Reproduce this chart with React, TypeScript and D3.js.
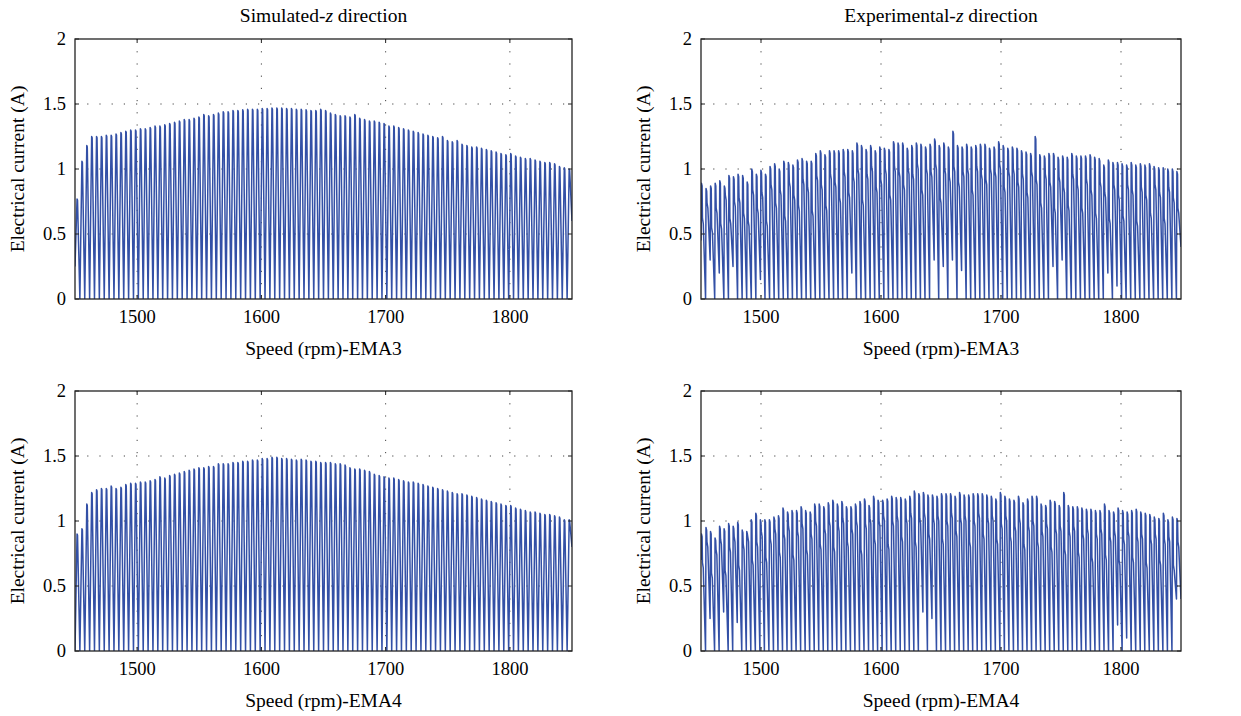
import React from 'react';
import * as d3 from 'd3';

// speed range on every x axis
const SPEED_MIN = 1450;
const SPEED_MAX = 1850;
const X_TICKS = [1500, 1600, 1700, 1800];
const Y_TICKS = [0, 0.5, 1, 1.5, 2];

// simulated current, peak of each electrical cycle (A)
const SIM_EMA3 = [
  0.77, 1.06, 1.18, 1.25, 1.25, 1.25, 1.26, 1.26, 1.27, 1.28,
  1.29, 1.30, 1.30, 1.31, 1.31, 1.32, 1.33, 1.33, 1.34, 1.35,
  1.36, 1.37, 1.38, 1.38, 1.39, 1.40, 1.42, 1.41, 1.42, 1.43,
  1.44, 1.44, 1.45, 1.45, 1.455, 1.46, 1.46, 1.46, 1.465, 1.465,
  1.47, 1.47, 1.47, 1.465, 1.465, 1.46, 1.46, 1.455, 1.45, 1.45,
  1.46, 1.45, 1.43, 1.42, 1.41, 1.41, 1.40, 1.42, 1.39, 1.38,
  1.37, 1.37, 1.36, 1.35, 1.33, 1.33, 1.32, 1.31, 1.30, 1.29,
  1.28, 1.27, 1.26, 1.25, 1.24, 1.25, 1.22, 1.21, 1.22, 1.19,
  1.18, 1.17, 1.17, 1.16, 1.15, 1.14, 1.13, 1.12, 1.11, 1.12,
  1.10, 1.09, 1.08, 1.08, 1.07, 1.06, 1.05, 1.05, 1.04, 1.02,
  1.01, 1.00,
];
const SIM_EMA4 = [
  0.90, 0.94, 1.13, 1.22, 1.24, 1.25, 1.25, 1.27, 1.25, 1.26,
  1.28, 1.29, 1.29, 1.30, 1.30, 1.31, 1.32, 1.34, 1.33, 1.35,
  1.36, 1.37, 1.38, 1.39, 1.40, 1.41, 1.41, 1.42, 1.42, 1.44,
  1.44, 1.44, 1.45, 1.45, 1.46, 1.46, 1.47, 1.47, 1.48, 1.48,
  1.49, 1.49, 1.48, 1.48, 1.475, 1.47, 1.475, 1.47, 1.46, 1.46,
  1.45, 1.45, 1.45, 1.44, 1.44, 1.43, 1.41, 1.40, 1.40, 1.39,
  1.38, 1.36, 1.35, 1.34, 1.33, 1.33, 1.32, 1.31, 1.30, 1.30,
  1.29, 1.28, 1.27, 1.26, 1.25, 1.24, 1.23, 1.22, 1.21, 1.21,
  1.20, 1.19, 1.18, 1.17, 1.16, 1.15, 1.14, 1.13, 1.12, 1.12,
  1.10, 1.09, 1.08, 1.07, 1.07, 1.06, 1.05, 1.05, 1.04, 1.03,
  1.01, 1.01,
];
// first / last sample of the simulated traces
const SIM_EMA3_ENDS = [0.25, 0.6];
const SIM_EMA4_ENDS = [0.0, 0.8];

// experimental current: peak, shoulder and trough of each cycle (A)
const EXP_EMA3_PEAK = [
  0.89, 0.85, 0.87, 0.89, 0.91, 0.87, 0.95, 0.94, 0.96, 0.95,
  0.90, 1.00, 0.96, 0.99, 0.96, 1.02, 1.04, 1.00, 1.06, 1.05,
  1.03, 1.07, 1.08, 1.06, 1.06, 1.12, 1.14, 1.11, 1.14, 1.14,
  1.14, 1.15, 1.15, 1.14, 1.20, 1.18, 1.15, 1.18, 1.14, 1.17,
  1.16, 1.15, 1.21, 1.20, 1.20, 1.16, 1.18, 1.20, 1.19, 1.17,
  1.19, 1.23, 1.18, 1.20, 1.17, 1.29, 1.18, 1.17, 1.19, 1.17,
  1.18, 1.19, 1.19, 1.16, 1.17, 1.21, 1.18, 1.16, 1.17, 1.16,
  1.14, 1.13, 1.12, 1.25, 1.11, 1.10, 1.12, 1.12, 1.09, 1.10,
  1.09, 1.12, 1.10, 1.10, 1.10, 1.11, 1.09, 1.08, 1.03, 1.07,
  1.05, 1.05, 1.04, 1.03, 1.05, 1.03, 1.04, 1.03, 1.04, 1.02,
  1.01, 1.01, 1.00, 1.00, 0.98,
];
const EXP_EMA3_SHOULDER = [
  0.62, 0.74, 0.55, 0.70, 0.58, 0.80, 0.62, 0.75, 0.78, 0.66,
  0.60, 0.84, 0.70, 0.82, 0.60, 0.88, 0.74, 0.84, 0.64, 0.90,
  0.80, 0.72, 0.92, 0.86, 0.68, 0.95, 0.88, 0.72, 0.96, 0.90,
  0.78, 0.98, 0.82, 0.94, 1.00, 0.76, 0.96, 1.02, 0.86, 0.92,
  1.00, 0.80, 1.02, 0.98, 0.88, 1.00, 0.96, 1.04, 0.84, 1.00,
  0.98, 1.04, 0.78, 1.00, 0.94, 1.02, 0.90, 0.98, 1.00, 0.84,
  1.02, 0.96, 0.92, 1.00, 0.98, 1.04, 0.86, 0.98, 1.00, 0.90,
  0.96, 0.82, 0.98, 0.92, 0.74, 0.96, 0.90, 0.70, 0.94, 0.86,
  0.72, 0.96, 0.88, 0.70, 0.92, 0.84, 0.66, 0.90, 0.82, 0.62,
  0.88, 0.80, 0.64, 0.88, 0.84, 0.60, 0.86, 0.80, 0.66, 0.88,
  0.82, 0.62, 0.86, 0.78, 0.70,
];
const EXP_EMA3_TROUGH = [
  0.45, 0.0, 0.30, 0.0, 0.20, 0.0, 0.0, 0.25, 0.0, 0.0,
  0.0, 0.0, 0.0, 0.15, 0.0, 0.0, 0.0, 0.0, 0.0, 0.0,
  0.0, 0.0, 0.0, 0.0, 0.0, 0.0, 0.0, 0.0, 0.0, 0.0,
  0.0, 0.0, 0.0, 0.20, 0.0, 0.0, 0.0, 0.0, 0.0, 0.0,
  0.0, 0.0, 0.0, 0.0, 0.0, 0.0, 0.0, 0.0, 0.0, 0.0,
  0.0, 0.30, 0.0, 0.25, 0.0, 0.30, 0.0, 0.22, 0.0, 0.0,
  0.0, 0.0, 0.0, 0.0, 0.0, 0.0, 0.0, 0.0, 0.0, 0.0,
  0.0, 0.0, 0.0, 0.0, 0.0, 0.0, 0.0, 0.25, 0.0, 0.30,
  0.0, 0.0, 0.0, 0.0, 0.0, 0.0, 0.0, 0.0, 0.0, 0.20,
  0.0, 0.10, 0.0, 0.0, 0.0, 0.0, 0.0, 0.0, 0.0, 0.0,
  0.0, 0.0, 0.0, 0.0, 0.0,
];

const EXP_EMA4_PEAK = [
  0.90, 0.95, 0.92, 0.87, 0.96, 0.94, 0.98, 0.96, 0.99, 0.93,
  0.92, 1.01, 1.06, 1.01, 1.01, 1.01, 1.03, 1.04, 1.10, 1.07,
  1.08, 1.08, 1.11, 1.08, 1.07, 1.13, 1.13, 1.11, 1.14, 1.16,
  1.13, 1.15, 1.11, 1.11, 1.13, 1.15, 1.17, 1.12, 1.19, 1.16,
  1.16, 1.17, 1.19, 1.18, 1.18, 1.17, 1.19, 1.23, 1.21, 1.22,
  1.20, 1.20, 1.19, 1.21, 1.21, 1.21, 1.19, 1.22, 1.20, 1.20,
  1.21, 1.21, 1.21, 1.20, 1.19, 1.17, 1.22, 1.19, 1.17, 1.16,
  1.19, 1.14, 1.17, 1.19, 1.19, 1.13, 1.12, 1.16, 1.15, 1.12,
  1.22, 1.12, 1.11, 1.11, 1.10, 1.09, 1.09, 1.08, 1.08, 1.13,
  1.08, 1.07, 1.10, 1.08, 1.07, 1.08, 1.09, 1.07, 1.06, 1.05,
  1.03, 1.02, 1.06, 1.01, 1.03, 1.02,
];
const EXP_EMA4_SHOULDER = [
  0.68, 0.84, 0.60, 0.78, 0.86, 0.62, 0.80, 0.88, 0.66, 0.82,
  0.88, 0.70, 0.84, 0.92, 0.72, 0.86, 0.94, 0.76, 0.90, 0.96,
  0.74, 0.92, 0.98, 0.78, 0.90, 1.00, 0.82, 0.94, 1.00, 0.80,
  0.96, 1.02, 0.84, 0.94, 1.00, 0.78, 0.98, 1.02, 0.86, 1.00,
  1.04, 0.82, 1.00, 1.04, 0.88, 1.02, 1.06, 0.84, 1.02, 1.06,
  0.90, 1.02, 1.04, 0.86, 1.00, 1.06, 0.92, 1.02, 1.04, 0.84,
  1.00, 1.06, 0.90, 1.02, 1.04, 0.86, 0.98, 1.04, 0.88, 0.96,
  1.02, 0.82, 0.96, 1.00, 0.84, 0.92, 0.98, 0.80, 0.94, 0.96,
  0.78, 0.92, 0.96, 0.76, 0.90, 0.94, 0.72, 0.90, 0.94, 0.74,
  0.88, 0.92, 0.70, 0.86, 0.92, 0.72, 0.88, 0.90, 0.68, 0.86,
  0.90, 0.70, 0.86, 0.88, 0.66, 0.84,
];
const EXP_EMA4_TROUGH = [
  0.70, 0.0, 0.25, 0.0, 0.0, 0.30, 0.0, 0.0, 0.22, 0.0,
  0.0, 0.0, 0.0, 0.0, 0.0, 0.0, 0.0, 0.0, 0.0, 0.0,
  0.0, 0.0, 0.0, 0.0, 0.0, 0.0, 0.0, 0.0, 0.0, 0.0,
  0.0, 0.0, 0.0, 0.0, 0.0, 0.0, 0.0, 0.0, 0.0, 0.0,
  0.0, 0.0, 0.0, 0.0, 0.0, 0.0, 0.0, 0.0, 0.0, 0.30,
  0.0, 0.25, 0.0, 0.0, 0.0, 0.0, 0.0, 0.0, 0.0, 0.0,
  0.0, 0.0, 0.0, 0.0, 0.0, 0.0, 0.0, 0.0, 0.0, 0.0,
  0.0, 0.0, 0.0, 0.0, 0.0, 0.0, 0.0, 0.0, 0.0, 0.0,
  0.0, 0.0, 0.0, 0.0, 0.0, 0.0, 0.0, 0.0, 0.0, 0.0,
  0.0, 0.0, 0.20, 0.0, 0.10, 0.0, 0.0, 0.0, 0.0, 0.0,
  0.0, 0.0, 0.0, 0.0, 0.0, 0.40,
];

const LINE_COLOR = '#3350a6';
const FONT = '"Liberation Serif", "Times New Roman", serif';

type Pt = [number, number];

// rectified simulated waveform: zero between cycles, peak mid-cycle
function simPoints(peaks: number[], ends: number[]): Pt[] {
  const n = peaks.length;
  const x = d3.scaleLinear().domain([0, n]).range([SPEED_MIN, SPEED_MAX]);
  const pts: Pt[] = [[x(0), ends[0]]];
  peaks.forEach((p, i) => {
    if (i > 0) pts.push([x(i), 0]);
    pts.push([x(i + 0.42), p]);
    pts.push([x(i + 0.52), p - 0.01]);
  });
  pts.push([x(n), ends[1]]);
  return pts;
}

// experimental waveform: sharp rise, short top, shoulder, fall
function expPoints(peaks: number[], shoulders: number[], troughs: number[]): Pt[] {
  const n = peaks.length;
  const x = d3.scaleLinear().domain([0, n]).range([SPEED_MIN, SPEED_MAX]);
  const pts: Pt[] = [];
  peaks.forEach((p, i) => {
    const s = shoulders[i];
    pts.push([x(i), troughs[i]]);
    pts.push([x(i + 0.1), p]);
    pts.push([x(i + 0.24), p - 0.02]);
    pts.push([x(i + 0.32), s]);
    pts.push([x(i + 0.5), s - 0.04]);
  });
  pts.push([x(n), 0.4]);
  return pts;
}

const PANELS = [
  { left: 75, right: 572, top: 39, bottom: 299, title: ['Simulated-', ' direction'], xlabel: 'Speed (rpm)-EMA3', pts: simPoints(SIM_EMA3, SIM_EMA3_ENDS) },
  { left: 701, right: 1181, top: 39, bottom: 299, title: ['Experimental-', ' direction'], xlabel: 'Speed (rpm)-EMA3', pts: expPoints(EXP_EMA3_PEAK, EXP_EMA3_SHOULDER, EXP_EMA3_TROUGH) },
  { left: 75, right: 572, top: 391, bottom: 651, title: null, xlabel: 'Speed (rpm)-EMA4', pts: simPoints(SIM_EMA4, SIM_EMA4_ENDS) },
  { left: 701, right: 1181, top: 391, bottom: 651, title: null, xlabel: 'Speed (rpm)-EMA4', pts: expPoints(EXP_EMA4_PEAK, EXP_EMA4_SHOULDER, EXP_EMA4_TROUGH) },
];

const Panel = ({ p, idx }: { p: typeof PANELS[number]; idx: number }) => {
  const x = d3.scaleLinear().domain([SPEED_MIN, SPEED_MAX]).range([p.left, p.right]);
  const y = d3.scaleLinear().domain([0, 2]).range([p.bottom, p.top]);
  const line = d3.line<Pt>().x(d => x(d[0])).y(d => y(d[1]));
  const cx = (p.left + p.right) / 2;
  const cy = (p.top + p.bottom) / 2;
  const clipId = `clip${idx}`;
  return (
    <g>
      <clipPath id={clipId}>
        <rect x={p.left} y={p.top} width={p.right - p.left} height={p.bottom - p.top} />
      </clipPath>
      {/* dotted grid */}
      {X_TICKS.map(t => (
        <line key={'gx' + t} x1={x(t)} x2={x(t)} y1={p.top} y2={p.bottom}
          stroke="#444" strokeWidth={1} strokeDasharray="1.2,11" />
      ))}
      {Y_TICKS.slice(1, -1).map(t => (
        <line key={'gy' + t} x1={p.left} x2={p.right} y1={y(t)} y2={y(t)}
          stroke="#444" strokeWidth={1} strokeDasharray="1.2,11" />
      ))}
      <path d={line(p.pts) || ''} fill="none" stroke={LINE_COLOR} strokeWidth={1.5}
        strokeLinejoin="round" clipPath={`url(#${clipId})`} />
      {/* frame + inward ticks */}
      <rect x={p.left} y={p.top} width={p.right - p.left} height={p.bottom - p.top}
        fill="none" stroke="#222" strokeWidth={1.3} />
      {X_TICKS.map(t => (
        <g key={'tx' + t}>
          <line x1={x(t)} x2={x(t)} y1={p.bottom} y2={p.bottom - 4} stroke="#222" />
          <line x1={x(t)} x2={x(t)} y1={p.top} y2={p.top + 4} stroke="#222" />
          <text x={x(t)} y={p.bottom + 24} textAnchor="middle" fontSize={18.5} fontFamily={FONT}>{t}</text>
        </g>
      ))}
      {Y_TICKS.map(t => (
        <g key={'ty' + t}>
          <line x1={p.left} x2={p.left + 4} y1={y(t)} y2={y(t)} stroke="#222" />
          <line x1={p.right} x2={p.right - 4} y1={y(t)} y2={y(t)} stroke="#222" />
          <text x={p.left - 9} y={y(t) + 6} textAnchor="end" fontSize={18.5} fontFamily={FONT}>{t}</text>
        </g>
      ))}
      <text x={cx} y={p.bottom + 56} textAnchor="middle" fontSize={19.5} fontFamily={FONT}>{p.xlabel}</text>
      <text transform={`translate(${p.left - 51},${cy}) rotate(-90)`} textAnchor="middle"
        fontSize={19.5} fontFamily={FONT}>Electrical current (A)</text>
      {p.title && (
        <text x={cx} y={p.top - 17} textAnchor="middle" fontSize={19.5} fontFamily={FONT}>
          {p.title[0]}<tspan fontStyle="italic">z</tspan>{p.title[1]}
        </text>
      )}
    </g>
  );
};

export default function App() {
  return (
    <svg width={1241} height={716} style={{ position: 'absolute', left: 0, top: 0, background: '#fff' }}>
      {PANELS.map((p, i) => <Panel key={i} p={p} idx={i} />)}
    </svg>
  );
}
